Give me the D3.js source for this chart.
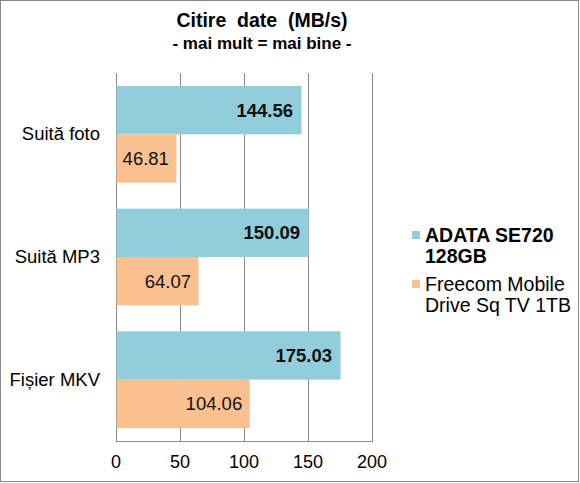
<html>
<head>
<meta charset="utf-8">
<title>Citire date</title>
<script src="https://cdn.jsdelivr.net/npm/d3@7"></script>
<style>
  body { margin: 0; background: #fff; }
  svg { font-family: "Liberation Sans", Arial, sans-serif; display: block; }
  .grid line { stroke: #8c8c8c; stroke-width: 1; }
</style>
</head>
<body>
<svg width="580" height="483"></svg>
<script>
var categories = ["Suită foto", "Suită MP3", "Fișier MKV"];
var seriesNames = ["ADATA SE720 128GB", "Freecom Mobile Drive Sq TV 1TB"];
var adata = [144.56, 150.09, 175.03];
var freecom = [46.81, 64.07, 104.06];
var ticks = [0, 50, 100, 150, 200];
var colors = ["#92cddc", "#fac090"];

var svg = d3.select("svg");

// outer frame
svg.append("rect")
  .attr("x", 0.5).attr("y", 0.5)
  .attr("width", 578).attr("height", 481)
  .attr("fill", "#fff").attr("stroke", "#8a8a8a");

// titles
svg.append("text")
  .attr("x", 262).attr("y", 27)
  .attr("text-anchor", "middle")
  .attr("font-weight", "bold").attr("font-size", 19.5)
  .attr("xml:space", "preserve")
  .text("Citire  date  (MB/s)");
svg.append("text")
  .attr("x", 262).attr("y", 49)
  .attr("text-anchor", "middle")
  .attr("font-weight", "bold").attr("font-size", 17)
  .text("- mai mult = mai bine -");

var plotLeft = 116, plotRight = 372, plotTop = 73, plotBottom = 441;

var x = d3.scaleLinear().domain([0, 200]).range([plotLeft, plotRight]);
var y = d3.scaleBand().domain(categories).range([plotTop, plotBottom])
  .paddingInner(0.212).paddingOuter(0.106);
var ys = d3.scaleBand().domain([0, 1]).range([0, y.bandwidth()]);

// gridlines
var grid = svg.append("g").attr("class", "grid");
grid.selectAll("line.v").data(ticks).enter().append("line")
  .attr("class", "v")
  .attr("x1", function(d) { return Math.round(x(d)) + 0.5; })
  .attr("x2", function(d) { return Math.round(x(d)) + 0.5; })
  .attr("y1", plotTop).attr("y2", plotBottom);
grid.append("line")
  .attr("x1", plotLeft).attr("x2", plotRight + 1)
  .attr("y1", plotBottom + 0.5).attr("y2", plotBottom + 0.5);

// tick labels
svg.append("g").selectAll("text").data(ticks).enter().append("text")
  .attr("x", function(d) { return x(d); })
  .attr("y", 468)
  .attr("text-anchor", "middle")
  .attr("font-size", 18)
  .text(function(d) { return d; });

// category labels
svg.append("g").selectAll("text").data(categories).enter().append("text")
  .attr("x", 100)
  .attr("y", function(d) { return y(d) + y.bandwidth() / 2 + 6; })
  .attr("text-anchor", "end")
  .attr("font-size", 18.5)
  .text(function(d) { return d; });

// bars
var rows = [];
categories.forEach(function(c, i) {
  rows.push({ cat: c, s: 0, v: adata[i] });
  rows.push({ cat: c, s: 1, v: freecom[i] });
});

svg.append("g").selectAll("rect").data(rows).enter().append("rect")
  .attr("x", x(0) + 0.5)
  .attr("y", function(d) { return y(d.cat) + ys(d.s); })
  .attr("width", function(d) { return x(d.v) - x(0); })
  .attr("height", ys.bandwidth())
  .attr("fill", function(d) { return colors[d.s]; });

svg.append("g").selectAll("text").data(rows).enter().append("text")
  .attr("x", function(d) { return x(d.v) - (d.s === 0 ? 8 : 7); })
  .attr("y", function(d) { return y(d.cat) + ys(d.s) + ys.bandwidth() / 2 + 6.5; })
  .attr("text-anchor", "end")
  .attr("font-size", 18.5)
  .attr("font-weight", function(d) { return d.s === 0 ? "bold" : "normal"; })
  .attr("fill", "#111")
  .text(function(d) { return d.v.toFixed(2); });

// legend
var legend = [
  { lines: ["ADATA SE720", "128GB"], y: 231, bold: true },
  { lines: ["Freecom Mobile", "Drive Sq TV 1TB"], y: 280, bold: false }
];
var lg = svg.append("g").selectAll("g").data(legend).enter().append("g");
lg.append("rect")
  .attr("x", 412).attr("y", function(d) { return d.y; })
  .attr("width", 8).attr("height", 8)
  .attr("fill", function(d, i) { return colors[i]; });
lg.each(function(d) {
  var t = d3.select(this).append("text")
    .attr("font-size", 19.5)
    .attr("font-weight", d.bold ? "bold" : "normal");
  d.lines.forEach(function(l, j) {
    t.append("tspan").attr("x", 425).attr("y", d.y + 11 + j * 21).text(l);
  });
});
</script>
</body>
</html>
